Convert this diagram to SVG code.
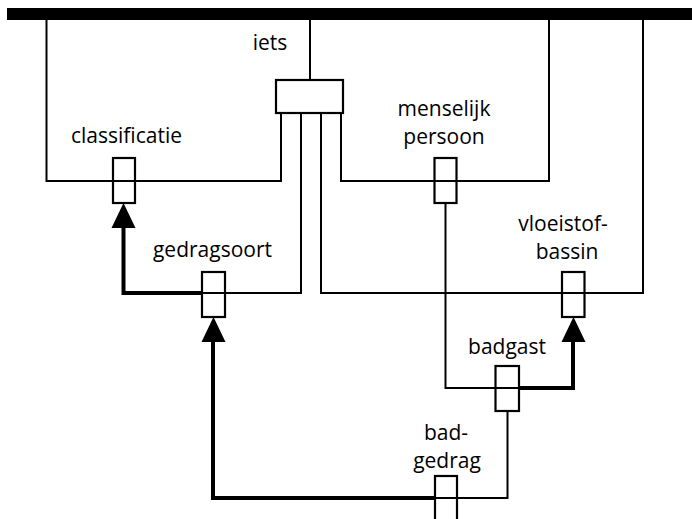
<svg xmlns="http://www.w3.org/2000/svg" width="692" height="519" viewBox="0 0 692 519">
<style>
.thin{fill:none;stroke:#000;stroke-width:2}
.thick{fill:none;stroke:#000;stroke-width:4}
.box{fill:none;stroke:#000;stroke-width:2.2}
.head{fill:#000}
.lbl{font-family:"Open Sans","Liberation Sans",sans-serif;font-size:21px;fill:#000;text-anchor:middle}
</style>
<rect x="7" y="8" width="685" height="12" fill="#000"/>
<g id="connectors">
<path class="thin" d="M46.5,20 V181 H281 V113"/>
<path class="thin" d="M310,20 V80"/>
<path class="thin" d="M341,113 V181 H549 V20"/>
<path class="thin" d="M301,113 V293 H202"/>
<path class="thin" d="M321,113 V293 H643 V20"/>
<path class="thin" d="M445.5,203 V388 H519"/>
<path class="thin" d="M507.5,411 V498 H435"/>
<path class="thick" d="M202,293 H123.5 V228"/>
<path class="thick" d="M435,498 H213 V342"/>
<path class="thick" d="M519,388 H573 V342"/>
<path class="head" d="M111.5,228 L123.5,203 L135.5,228 Z"/>
<path class="head" d="M201.5,342 L213.5,317 L225.5,342 Z"/>
<path class="head" d="M561.5,342 L573.5,317 L585.5,342 Z"/>
</g>
<g id="iets">
<rect class="box" x="276" y="80" width="67" height="33" fill="#fff"/>
<text class="lbl" x="270" y="50">iets</text>
</g>
<g id="classificatie">
<rect class="box" x="113" y="158" width="22" height="45"/>
<text class="lbl" x="126.5" y="143">classificatie</text>
</g>
<g id="menselijk-persoon">
<rect class="box" x="434.5" y="158" width="22" height="45"/>
<text class="lbl" x="444" y="116">menselijk</text>
<text class="lbl" x="444" y="144">persoon</text>
</g>
<g id="gedragsoort">
<rect class="box" x="202" y="272" width="23" height="45"/>
<text class="lbl" x="212.5" y="257">gedragsoort</text>
</g>
<g id="vloeistof-bassin">
<rect class="box" x="562" y="272" width="22.5" height="45"/>
<text class="lbl" x="563" y="231">vloeistof-</text>
<text class="lbl" x="567" y="259">bassin</text>
</g>
<g id="badgast">
<rect class="box" x="495.5" y="366" width="23.5" height="45"/>
<text class="lbl" x="507" y="354">badgast</text>
</g>
<g id="badgedrag">
<rect class="box" x="435" y="476" width="22" height="50"/>
<text class="lbl" x="446" y="440">bad-</text>
<text class="lbl" x="447" y="468">gedrag</text>
</g>
</svg>
